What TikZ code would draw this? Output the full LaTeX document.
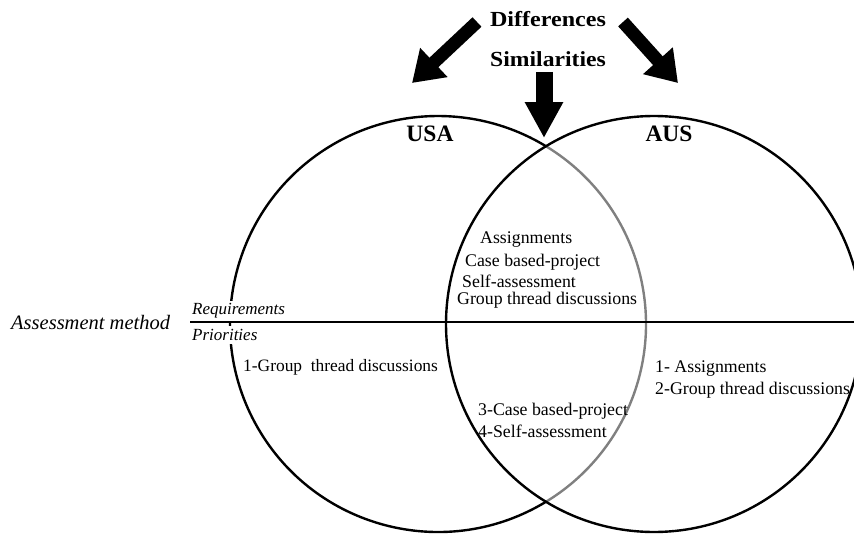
\documentclass[tikz,border=0pt]{standalone}
\usepackage{fontspec}
\usepackage{graphicx}
\setmainfont{Liberation Serif}
\usetikzlibrary{arrows.meta}

\begin{document}
\begin{tikzpicture}[x=1pt,y=-1pt,
  title/.style={font=\fontsize{21.5}{24}\selectfont\bfseries, inner sep=0pt},
  region/.style={font=\fontsize{23.5}{26}\selectfont\bfseries, inner sep=0pt},
  body/.style={font=\fontsize{17.8}{20}\selectfont, inner sep=0pt, anchor=west},
  tag/.style={font=\fontsize{17}{20}\selectfont\itshape, inner xsep=1pt, inner ysep=3pt, anchor=west, fill=white},
  ring/.style={line width=2.4pt},
  blockarrow/.style={line width=13pt, -{Triangle[width=38pt,length=30pt]}},
  downarrow/.style={line width=17pt, -{Triangle[width=36pt,length=36pt]}},
]
\useasboundingbox (0,0) rectangle (854,535);
\clip (0,0) rectangle (854,535);

% circle centres and radius
\coordinate (cU) at (438,324);
\coordinate (cA) at (654,324);

% USA circle: outer arc in black, the part inside AUS in grey
\draw[ring] (cU) ++(58.7:208) arc[start angle=58.7, end angle=301.3, radius=208];
\draw[ring, black!50] (cU) ++(-58.7:208) arc[start angle=-58.7, end angle=58.7, radius=208];
% AUS circle
\draw[ring] (cA) circle[radius=208];

% headings
\node[title] (diff) at (548,19) {\scalebox{1.12}[1]{Differences}};
\node[title] (sim) at (548,59) {\scalebox{1.1}[1]{Similarities}};
\node[region] (usa) at (430,134) {USA};
\node[region] (aus) at (669,134) {AUS};

% block arrows
\coordinate (dL) at (477,22);
\coordinate (tL) at (412,83);
\coordinate (dR) at (623,22);
\coordinate (tR) at (678,83);
\coordinate (sT) at (544,72);
\coordinate (sB) at (544,138);
\draw[blockarrow] (dL) -- (tL);
\draw[blockarrow] (dR) -- (tR);
\draw[downarrow] (sT) -- (sB);

% row labels (white behind them hides the circle)
\node[tag, fill=none, font=\fontsize{20.5}{24}\selectfont\itshape] (method) at (10,322) {Assessment method};
\node[tag] (req) at (191,311) {Requirements};
\node[tag] (prio) at (191,335) {Priorities};

% dividing line
\coordinate (lineL) at (190,322);
\coordinate (lineR) at (854,322);
\draw[line width=1.1pt] (lineL) -- (lineR);

% requirements shared by both
\node[body] (s1) at (480,240) {Assignments};
\node[body] (s2) at (465,262) {Case based-project};
\node[body] (s3) at (462,281) {Self-assessment};
\node[body] (s4) at (457,300) {Group thread discussions};

% priorities
\node[body, font=\fontsize{17.4}{20}\selectfont] (u1) at (243,367) {1-Group\ \ thread discussions};
\node[body] (a1) at (655,369) {1- Assignments};
\node[body] (a2) at (655,390) {2-Group thread discussions};
\node[body] (b3) at (478,411) {3-Case based-project};
\node[body] (b4) at (478,431) {4-Self-assessment};
\end{tikzpicture}
\end{document}
